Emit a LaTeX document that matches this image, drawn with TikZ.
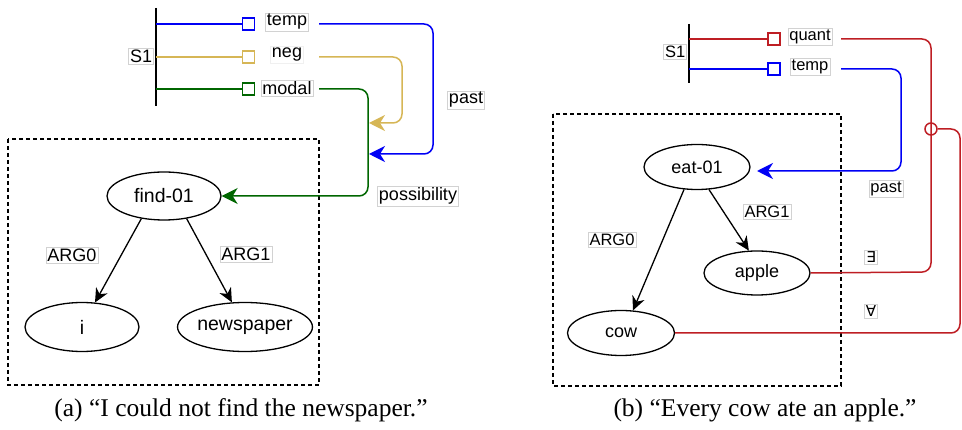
\documentclass[tikz,border=0pt]{standalone}
\usepackage{fontspec}
\setmainfont{Liberation Serif}
\newfontfamily\lsans{Liberation Sans}
\newfontfamily\dvs{DejaVu Sans}
\usetikzlibrary{arrows.meta,shapes.geometric}
\definecolor{cblue}{RGB}{0,0,245}
\definecolor{ctan}{RGB}{214,182,86}
\definecolor{cgreen}{RGB}{0,102,0}
\definecolor{cred}{RGB}{190,30,36}
\definecolor{cgray}{RGB}{210,210,210}
\begin{document}
\begin{tikzpicture}[x=1pt,y=-1pt,
  ell/.style={draw,ellipse,line width=1.3pt,inner sep=0pt,fill=white,font=\lsans\fontsize{19.5}{22}\selectfont},
  ellb/.style={draw,ellipse,line width=1.3pt,inner sep=0pt,fill=white,font=\lsans\fontsize{18}{21}\selectfont},
  lab/.style={draw=cgray,line width=0.6pt,fill=white,inner sep=1.5pt,font=\lsans\fontsize{18}{20}\selectfont},
  labb/.style={draw=cgray,line width=0.6pt,fill=white,inner sep=1.5pt,font=\lsans\fontsize{16.5}{19}\selectfont},
  sq/.style={draw,line width=1.5pt,minimum size=12pt,inner sep=0pt,fill=white},
  conn/.style={line width=1.5pt,rounded corners=9pt},
  bigtip/.style={-{Stealth[length=16pt,width=16pt,inset=5pt]}},
  smalltip/.style={-{Stealth[length=14pt,width=13pt,inset=4.5pt]}},
  edge/.style={line width=1.3pt,smalltip},
  box/.style={draw,line width=1.2pt,dash pattern=on 4pt off 3pt},
  captext/.style={font=\fontsize{25.5}{28}\selectfont}
]
\useasboundingbox (0,0) rectangle (962,430);

% ---------------- Left panel ----------------
\draw[box] (8,139) rectangle (319,385);

\coordinate (s1t) at (156,8);
\coordinate (s1b) at (156,106);
\draw[line width=1.5pt] (s1t) -- (s1b);
\node[lab,anchor=east] (s1) at (154,56) {S1};

\node[sq,draw=cblue] (sqT) at (248.5,24) {};
\node[sq,draw=ctan] (sqN) at (248.5,57) {};
\node[sq,draw=cgreen] (sqM) at (248.5,89) {};
\coordinate (bT) at (156,24);
\coordinate (bN) at (156,57);
\coordinate (bM) at (156,89);
\draw[cblue,line width=1.5pt] (bT) -- (sqT.west);
\draw[ctan,line width=1.5pt] (bN) -- (sqN.west);
\draw[cgreen,line width=1.5pt] (bM) -- (sqM.west);

\node[lab] (ltemp) at (287,22) {temp};
\node[lab,draw=black!6] (lneg) at (287,55) {neg};
\node[lab] (lmodal) at (287,88) {modal};

\node[ell,minimum width=114pt,minimum height=48pt] (find) at (164,196) {find-01};
\node[ell,minimum width=114pt,minimum height=49pt] (i) at (82,327) {i};
\node[ell,minimum width=115pt,minimum height=49pt] (news) at (245,327) {newspaper};

\draw[edge] (find.225) -- (i.62);
\draw[edge] (find.-45) -- (news.118);
\node[lab] (a0) at (72,255) {ARG0};
\node[lab] (a1) at (246,254) {ARG1};

\coordinate (tS) at (319,24);
\coordinate (nS) at (319,57);
\coordinate (mS) at (319,89);
\coordinate (tE) at (369,154);
\coordinate (nE) at (369,123);
\draw[conn,cblue,bigtip] (tS) -- (433,24) -- (433,154) -- (tE);
\draw[conn,ctan,bigtip] (nS) -- (402,57) -- (402,123) -- (nE);
\draw[conn,cgreen,bigtip] (mS) -- (368,89) -- (368,196) -- (find.east);

\node[lab] (past1) at (466,100) {past};
\node[lab] (poss) at (418,196) {possibility};

% ---------------- Right panel ----------------
\draw[box] (553,114) rectangle (841,386);

\coordinate (r1t) at (689,24);
\coordinate (r1b) at (689,83);
\draw[line width=1.5pt] (r1t) -- (r1b);
\node[labb,anchor=east] (rs1) at (687,52) {S1};

\node[sq,draw=cred] (sqQ) at (774,39) {};
\node[sq,draw=cblue] (sqR) at (774,69) {};
\coordinate (bQ) at (689,39);
\coordinate (bR) at (689,69);
\draw[cred,line width=1.5pt] (bQ) -- (sqQ.west);
\draw[cblue,line width=1.5pt] (bR) -- (sqR.west);
\node[labb] (lquant) at (810,37) {quant};
\node[labb] (rtemp) at (810,67) {temp};

\node[ellb,minimum width=106pt,minimum height=45pt] (eat) at (697,167) {eat-01};
\node[ellb,minimum width=106pt,minimum height=44pt] (apple) at (757,273) {apple};
\node[ellb,minimum width=107pt,minimum height=45pt] (cow) at (621,333) {cow};

\draw[edge] (eat.240) -- (cow.62);
\draw[edge] (eat.-62) -- (apple.110);
\node[labb] (b0) at (612,240) {ARG0};
\node[labb] (b1) at (767,212) {ARG1};

\coordinate (qS) at (841,39);
\coordinate (rS) at (841,69);
\coordinate (rE) at (757,171);
\draw[conn,cred] (qS) -- (931,39) -- (931,272) -- (apple.east);
\draw[conn,cblue,bigtip] (rS) -- (901,69) -- (901,171) -- (rE);
\node[draw=cred,line width=1.5pt,circle,minimum size=12pt,inner sep=0pt] (hop) at (931,129) {};
\draw[conn,cred] (cow.east) -- (960,333) -- (960,129) -- (hop.east);

\node[labb] (past2) at (886,189) {past};
\node[labb,font=\dvs\fontsize{15}{18}\selectfont] (ex) at (871,257) {∃};
\node[labb,font=\dvs\fontsize{15}{18}\selectfont] (fa) at (871,311) {∀};

% ---------------- Captions ----------------
\node[captext] (capa) at (241,410) {(a) “I could not find the newspaper.”};
\node[captext] (capb) at (765,410) {(b) “Every cow ate an apple.”};
\end{tikzpicture}
\end{document}
